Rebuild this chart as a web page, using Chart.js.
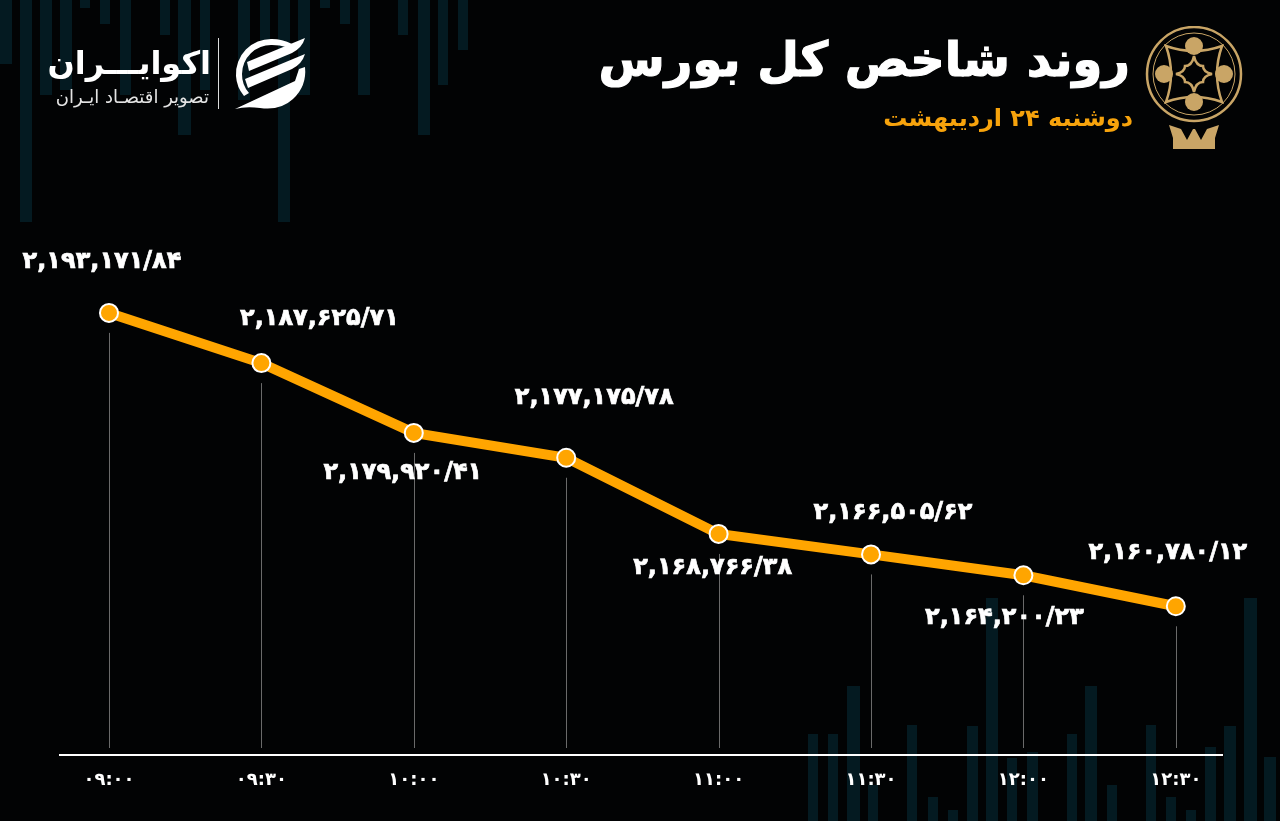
<!DOCTYPE html>
<html lang="fa">
<head>
<meta charset="utf-8">
<title>روند شاخص کل بورس</title>
<script src="https://cdn.jsdelivr.net/npm/chart.js@4/dist/chart.umd.min.js"></script>
<style>
  html, body { margin: 0; padding: 0; background: #020304; }
  #page { position: relative; width: 1280px; height: 821px; overflow: hidden; background: #020304; font-family: "DejaVu Sans", sans-serif; }
  #decor div { position: absolute; background: #041a21; }
  canvas { position: absolute; left: 0; top: 0; }
  .txt { position: absolute; white-space: nowrap; direction: rtl; }
  #title { right: 150px; top: 24px; font-size: 48px; font-weight: bold; color: #fff; line-height: 70px; -webkit-text-stroke: 1.2px #fff; }
  #subtitle { right: 147px; top: 102px; font-size: 24px; font-weight: bold; color: #f7a30c; line-height: 32px; }
  #brand { right: 1069px; top: 38px; font-size: 32px; font-weight: bold; color: #fff; line-height: 50px; }
  #brandSub { right: 1071px; top: 85px; font-size: 18px; color: #e4e4e4; line-height: 24px; }
  #divider { position: absolute; left: 218px; top: 38px; width: 1px; height: 71px; background: #ddd; }
  svg { position: absolute; }
</style>
</head>
<body>
<div id="page">
  <div id="decor"></div>
  <canvas id="indexChart" width="1280" height="821"></canvas>

  <div class="txt" id="title">روند شاخص کل بورس</div>
  <div class="txt" id="subtitle">دوشنبه ۲۴ اردیبهشت</div>
  <div class="txt" id="brand">اکوایـــران</div>
  <div class="txt" id="brandSub">تصویر اقتصـاد ایـران</div>
  <div id="divider"></div>

  <!-- logo -->
  <svg style="left:232px;top:36px" width="75" height="75" viewBox="0 0 75 75">
    <path d="M40 3 A35 35 0 0 0 4 40 A34 34 0 0 0 12 60 L17 57 A28 28 0 0 1 10 38 A29 29 0 0 1 40 9 Q48 9 54 11 L60 8 Q50 3 40 3 Z" fill="#fff"/>
    <path d="M15 26 L73 2 Q70 12 60 17 L17 35 Z" fill="#fff"/>
    <path d="M13 43 L73 18 Q70 28 60 33 L16 52 Z" fill="#fff"/>
    <path d="M3 73 L63 45 L67 33 L73 31 Q75 50 61 63 Q48 75 28 72 Q14 70 3 73 Z" fill="#fff"/>
  </svg>

  <!-- exchange emblem -->
  <svg style="left:1143px;top:26px" width="102" height="126" viewBox="0 0 102 126" fill="none" stroke="#c9a566">
    <ellipse cx="51" cy="48" rx="47" ry="47" stroke-width="2.5"/>
    <ellipse cx="51" cy="48" rx="41" ry="41" stroke-width="1"/>
    <path d="M23 20 Q51 30 79 20 Q69 48 79 76 Q51 66 23 76 Q33 48 23 20 Z" stroke-width="2.5"/>
    <path d="M51 30 Q53 40 60 40 Q60 46 69 48 Q60 50 60 56 Q53 56 51 66 Q49 56 42 56 Q42 50 33 48 Q42 46 42 40 Q49 40 51 30 Z" stroke-width="2.5"/>
    <g fill="#c9a566" stroke="none">
      <circle cx="51" cy="20" r="9"/><circle cx="51" cy="76" r="9"/>
      <circle cx="21" cy="48" r="9"/><circle cx="81" cy="48" r="9"/>
      <path d="M26 99 L38 103 L44 114 L50 103 L52 103 L58 114 L64 103 L76 99 L72 112 L72 123 L30 123 L30 112 Z"/>
    </g>
  </svg>
</div>

<script>
// Chart data
const timeLabels = ['09:00', '09:30', '10:00', '10:30', '11:00', '11:30', '12:00', '12:30'];
const indexValues = [2193171.84, 2187625.71, 2179920.41, 2177175.78, 2168766.38, 2166505.62, 2164200.23, 2160780.12];

// Where each value label sits relative to its point
const labelOffsets = [[-7, -51], [58, -44], [-11, 40], [28, -60], [-6, 34], [22, -42], [-19, 42], [-8, -54]];

// Faint candle pattern behind the chart: [left, width, height]
const decorTop = [[0, 12, 64], [20, 12, 222], [40, 12, 95], [60, 12, 90], [80, 10, 8], [100, 10, 24], [120, 11, 95], [160, 10, 35],
    [178, 13, 135], [200, 10, 90], [238, 12, 100], [260, 10, 40], [278, 12, 222], [298, 12, 95], [320, 10, 8], [340, 10, 24],
    [358, 12, 95], [398, 10, 35], [418, 12, 135], [438, 10, 85], [458, 10, 50]];
// [left, width, top]
const decorBottom = [[808, 10, 734], [828, 10, 734], [847, 13, 686], [868, 10, 785], [907, 10, 725], [928, 10, 797], [948, 10, 810],
    [967, 11, 726], [986, 12, 598], [1007, 10, 758], [1027, 11, 752], [1067, 10, 734], [1085, 12, 686], [1107, 10, 785],
    [1146, 10, 725], [1166, 10, 797], [1186, 10, 810], [1205, 11, 747], [1224, 12, 726], [1244, 13, 598], [1264, 12, 757]];

const decor = document.getElementById('decor');
decorTop.forEach(([left, width, height]) => {
    decor.insertAdjacentHTML('beforeend', `<div style="left:${left}px;top:0;width:${width}px;height:${height}px"></div>`);
});
decorBottom.forEach(([left, width, top]) => {
    decor.insertAdjacentHTML('beforeend', `<div style="left:${left}px;top:${top}px;width:${width}px;height:${821 - top}px"></div>`);
});

function toPersianDigits(text) {
    return text.replace(/[0-9]/g, d => '۰۱۲۳۴۵۶۷۸۹'[d]);
}

// 2193171.84 -> ۲,۱۹۳,۱۷۱/۸۴
function formatValue(value) {
    const [whole, fraction] = value.toFixed(2).split('.');
    return toPersianDigits(whole.replace(/\B(?=(\d{3})+$)/g, ',') + '/' + fraction);
}

// Thin drop lines under the points, drawn before the line itself
const dropLines = {
    id: 'dropLines',
    beforeDatasetsDraw(chart) {
        const { ctx, scales: { x, y } } = chart;
        ctx.save();
        ctx.strokeStyle = '#6a6a6a';
        ctx.lineWidth = 1;
        indexValues.forEach((value, i) => {
            const px = Math.round(x.getPixelForValue(i)) + 0.5;
            ctx.beginPath();
            ctx.moveTo(px, y.getPixelForValue(value) + 20);
            ctx.lineTo(px, y.bottom - 7);
            ctx.stroke();
        });
        ctx.restore();
    }
};

// Value labels, chart.js has no built in data labels
const valueLabels = {
    id: 'valueLabels',
    afterDatasetsDraw(chart) {
        const { ctx, scales: { x, y } } = chart;
        ctx.save();
        ctx.fillStyle = '#ffffff';
        ctx.strokeStyle = '#ffffff';
        ctx.lineWidth = 0.7;
        ctx.font = 'bold 24px "DejaVu Sans"';
        ctx.letterSpacing = '3.7px';
        ctx.textAlign = 'center';
        ctx.textBaseline = 'middle';
        indexValues.forEach((value, i) => {
            const [dx, dy] = labelOffsets[i];
            const text = formatValue(value);
            const px = x.getPixelForValue(i) + dx;
            const py = y.getPixelForValue(value) + dy;
            ctx.fillText(text, px, py);
            ctx.strokeText(text, px, py);
        });
        ctx.restore();
    }
};

new Chart(document.getElementById('indexChart'), {
    type: 'line',
    data: {
        datasets: [{
            data: indexValues.map((value, i) => ({ x: i, y: value })),
            borderColor: '#ffa500',
            borderWidth: 10,
            tension: 0,
            pointRadius: 9,
            pointBackgroundColor: '#ffa500',
            pointBorderColor: '#ffffff',
            pointBorderWidth: 2
        }]
    },
    options: {
        responsive: false,
        animation: false,
        layout: { padding: { left: 60, right: 58, top: 0, bottom: 0 } },
        plugins: { legend: { display: false }, tooltip: { enabled: false } },
        scales: {
            x: {
                type: 'linear',
                min: -0.3215,
                max: 7.303,
                afterFit(scale) { scale.height = 66; },
                border: { color: '#ffffff', width: 2 },
                grid: { display: false },
                ticks: {
                    stepSize: 1,
                    includeBounds: false,
                    maxRotation: 0,
                    autoSkip: false,
                    padding: 7,
                    color: '#ffffff',
                    font: { family: '"DejaVu Sans"', size: 18, weight: 'bold' },
                    callback: value => toPersianDigits(timeLabels[value] || '')
                }
            },
            y: {
                display: false,
                min: 2144360,
                max: 2226500
            }
        }
    },
    plugins: [dropLines, valueLabels]
});
</script>
</body>
</html>
